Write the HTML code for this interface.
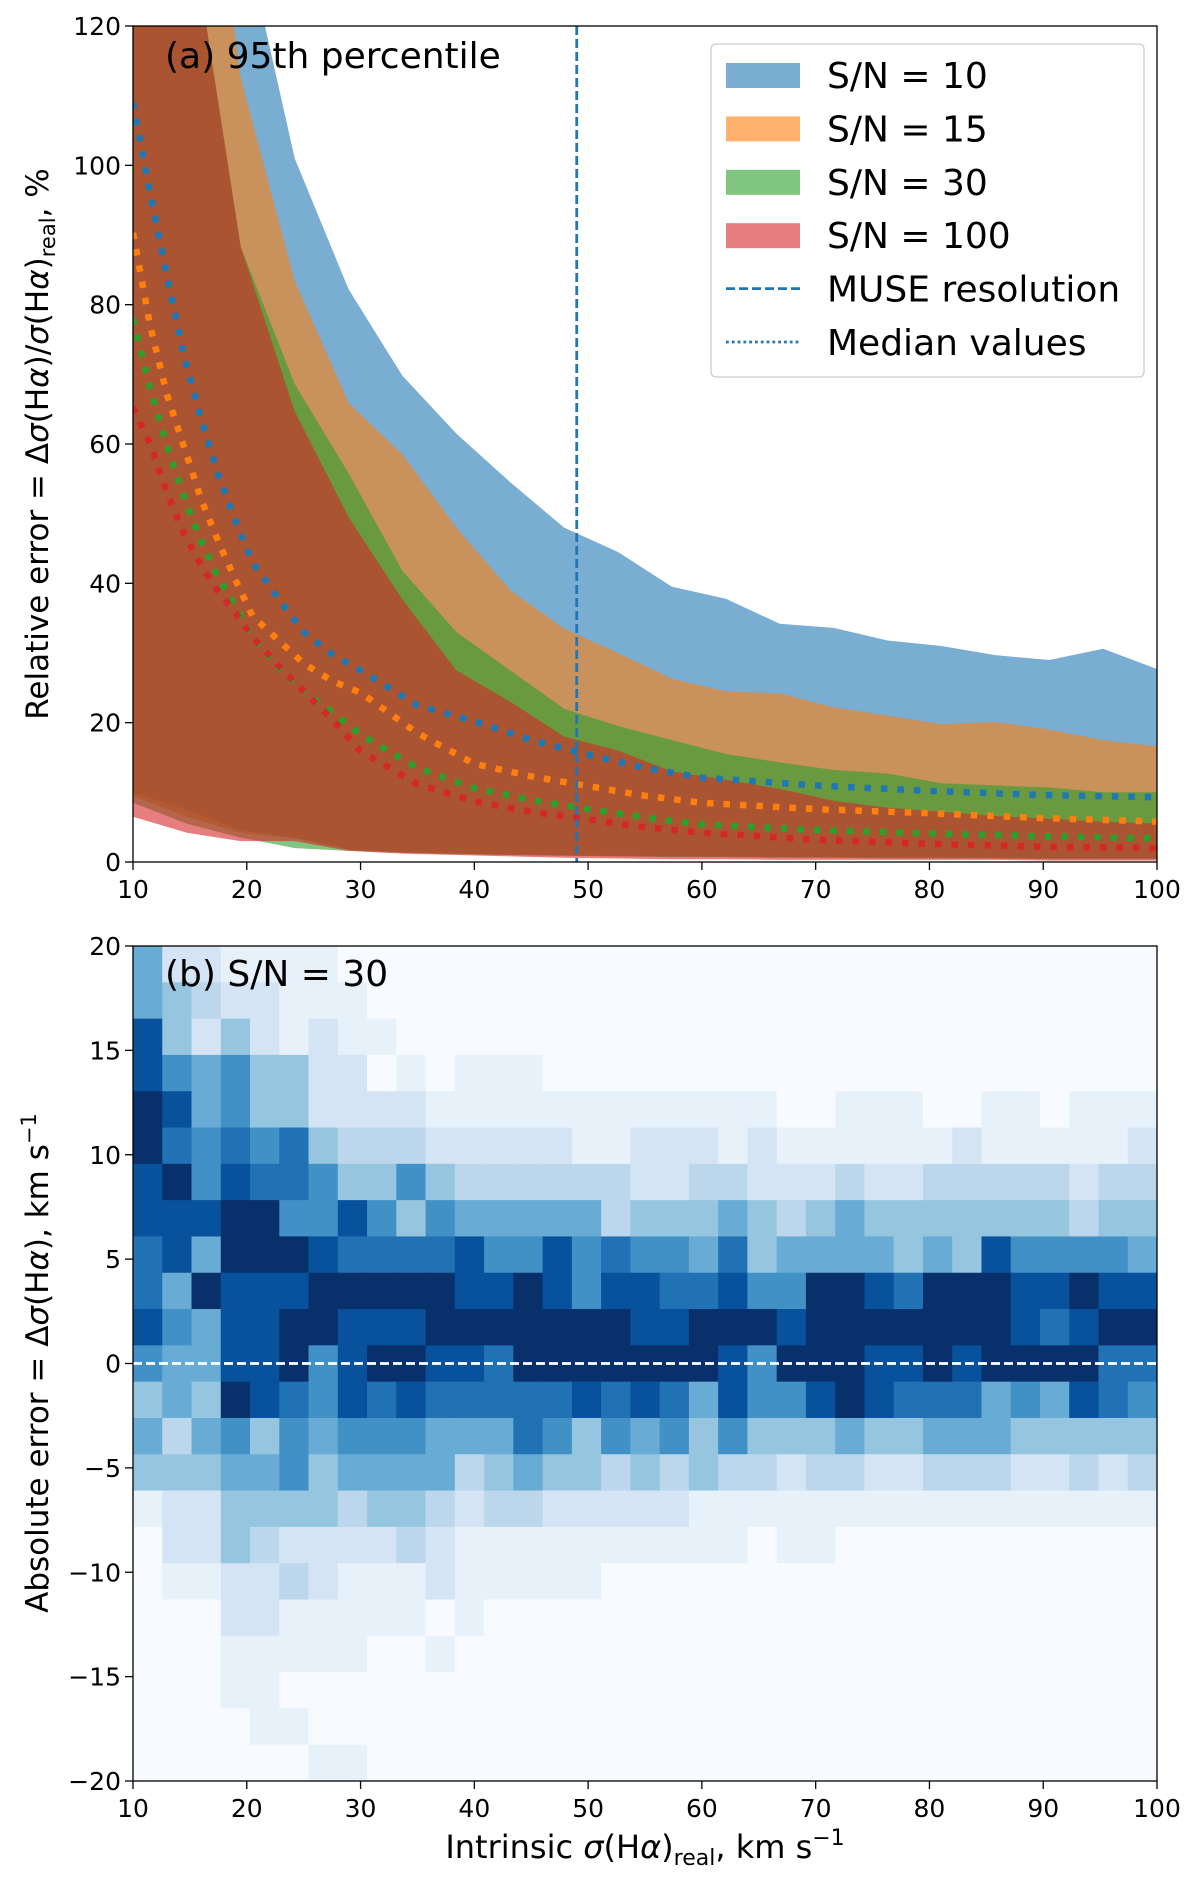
<!DOCTYPE html>
<html><head><meta charset="utf-8"><style>
html,body{margin:0;padding:0;background:#fff}
svg{display:block;font-family:"DejaVu Sans","Liberation Sans",sans-serif}
</style></head><body>
<svg id="fig" width="1200" height="1886" viewBox="0 0 1200 1886" xmlns="http://www.w3.org/2000/svg">
<defs>
<clipPath id="clipA"><rect x="133" y="26" width="1024" height="836"/></clipPath>
</defs>
<g id="panelA"></g>
<g id="panelB"></g>
</svg>
<script>
// ---------- Panel (a) data ----------
const bandX = [10,14.74,19.47,24.21,28.95,33.68,38.42,43.16,47.89,52.63,57.37,62.1,66.84,71.58,76.32,81.05,85.79,90.53,95.26,100];
const blueHi = [300,200,135.5,101,82.2,69.8,61.5,54.5,48,44.5,39.5,37.8,34.2,33.6,31.8,31.0,29.7,29.0,30.6,27.7];
const blueLo = [10,7.5,4.5,3.5,1.8,1.4,1.2,1.1,1.0,0.9,0.8,0.8,0.7,0.7,0.6,0.6,0.6,0.5,0.5,0.5];
const orangeHi = [250,170,112.6,83.4,65.9,58.5,48,39,33.5,30,26.3,24.5,24.2,22.2,21,19.8,20.1,19,17.5,16.6];
const orangeLo = [9.5,6.5,4.2,3.4,1.8,1.4,1.2,1.0,0.9,0.8,0.8,0.7,0.7,0.6,0.6,0.6,0.5,0.5,0.5,0.5];
const greenHi = [220,138,88.3,68.6,55.8,41.8,33,27.5,22,19.5,17.5,15.5,14.3,13.2,12.7,11.3,11,10.7,10,10];
const greenLo = [8.5,5.5,3.5,2.0,1.6,1.3,1.1,1.0,0.9,0.8,0.7,0.7,0.6,0.6,0.5,0.5,0.5,0.4,0.4,0.4];
const redHi = [220,138,88.3,64.7,49.5,37.7,27.5,23,18,16,13,11.8,10.5,8.8,7.8,7.2,6.6,6.2,5.8,5.5];
const redLo = [6.5,4.2,3.0,3.0,1.6,1.2,1.0,0.8,0.6,0.5,0.4,0.4,0.3,0.3,0.3,0.3,0.3,0.2,0.2,0.2];
const medX = [10,11.5,13,14.5,16,17.5,19,20.5,23,25,27.5,30,35,40,45,50,55,60,70,80,90,100];
const medBlue = [109,96,84,72.5,63.5,55.5,49,43,37.3,33,29.8,27.5,22.5,20.2,17.5,15.4,13.5,12.1,11.0,10.2,9.6,9.3];
const medOrange = [90.3,77,67,59.5,52,46,40.5,35.3,31.5,28.5,26,24.3,18.5,14.1,12.3,10.9,9.5,8.5,7.6,7.0,6.3,5.8];
const medGreen = [78,68,59.6,52.3,46,40.8,36.7,32.3,27.5,24.5,21.5,18.3,13.5,10.6,8.9,7.6,6.4,5.4,4.6,4.1,3.7,3.4];
const medRed = [65.3,60,53,47,42.5,38.8,35.8,32.3,27.8,24.5,20.5,15.9,11.2,8.7,7.2,6.1,5.0,4.2,3.2,2.6,2.2,2.0];
const museRes = 49;
const xTicks = [10,20,30,40,50,60,70,80,90,100];
const yTicksA = [0,20,40,60,80,100,120];
const legendLabels = ["S/N = 10","S/N = 15","S/N = 30","S/N = 100","MUSE resolution","Median values"];
// ---------- Panel (b) data ----------
const heatRows = [
"52211110000000000000000000000000000",
"54322111000000000000000000000000000",
"84242121100000000000000000000000000",
"86564422010111000000000000000000000",
"98564422221111111111110011100110111",
"97676743332222211222121111112111112",
"89687764464333333223322232233333233",
"88899668646555553444543454444444344",
"78599987777866867665745555454866665",
"75988899999889868877866998799988988",
"86588998889999999889998999999987899",
"65588968998879999999869998898999977",
"45498768787777787875866898777565876",
"53564656665557646564644454455544444",
"44455645555345443434332332233322323",
"12244443443233222221111111111111111",
"02243222232111111111101100000000000",
"01122321112111110000000000000000000",
"00022111110100000000000000000000000",
"00011111001000000000000000000000000",
"00011000000000000000000000000000000",
"00001100000000000000000000000000000",
"00000011000000000000000000000000000"];
const yTicksB = [-20,-15,-10,-5,0,5,10,15,20];

const NS = "http://www.w3.org/2000/svg";
function mk(tag, attrs, parent){const e=document.createElementNS(NS,tag);for(const k in attrs)e.setAttribute(k,attrs[k]);parent.appendChild(e);return e;}
const L=133,R=1157;
const xs = v => L + (v-10)/90*(R-L);
const yA = v => 862 - v/120*(862-26);
const yB = v => 1781 - (v+20)/40*(1781-946);
const pA=document.getElementById('panelA'), pB=document.getElementById('panelB');

const clipG = mk('g',{'clip-path':'url(#clipA)'},pA);
const bands=[[blueHi,blueLo,'#1f77b4','band-sn10'],[orangeHi,orangeLo,'#ff7f0e','band-sn15'],[greenHi,greenLo,'#2ca02c','band-sn30'],[redHi,redLo,'#d62728','band-sn100']];
bands.forEach(b=>{
  let d='M'+bandX.map((x,i)=>xs(x).toFixed(1)+','+yA(b[0][i]).toFixed(1)).join('L');
  for(let i=bandX.length-1;i>=0;i--) d+='L'+xs(bandX[i]).toFixed(1)+','+yA(b[1][i]).toFixed(1);
  const p=mk('path',{d:d+'Z',fill:b[2],'fill-opacity':0.6},clipG);
  
  
});
const meds=[[medBlue,'#1f77b4','median-sn10'],[medOrange,'#ff7f0e','median-sn15'],[medGreen,'#2ca02c','median-sn30'],[medRed,'#d62728','median-sn100']];
meds.forEach(m=>{
  const pts=medX.map((x,i)=>xs(x).toFixed(1)+','+yA(m[0][i]).toFixed(1)).join(' ');
  const p=mk('polyline',{points:pts,fill:'none',stroke:m[1],'stroke-width':6.5,'stroke-dasharray':'6.5 10'},clipG);
  
  
});
const mv=mk('line',{x1:xs(museRes),x2:xs(museRes),y1:26,y2:862,stroke:'#1f77b4','stroke-width':2.8,'stroke-dasharray':'9 4'},pA);


mk('rect',{x:L,y:26,width:R-L,height:836,fill:'none',stroke:'#000','stroke-width':1.3},pA);

function axes(parent, yFun, yTicks, top, bottom, tickNameA){
  xTicks.forEach(v=>{
    mk('line',{x1:xs(v),x2:xs(v),y1:bottom,y2:bottom+8,stroke:'#000','stroke-width':1.3},parent);
    const t=mk('text',{x:xs(v),y:bottom+36,'font-size':25,'text-anchor':'middle'},parent);
    t.textContent=v;
    
    
  });
  yTicks.forEach(v=>{
    mk('line',{x1:L-8,x2:L,y1:yFun(v),y2:yFun(v),stroke:'#000','stroke-width':1.3},parent);
    const t=mk('text',{x:L-12,y:yFun(v)+9,'font-size':25,'text-anchor':'end'},parent);
    t.textContent=v<0?'\u2212'+(-v):v;
    
    
  });
}
axes(pA,yA,yTicksA,26,862,'y-tick-label');

const ta=mk('text',{x:165,y:68,'font-size':36},pA); ta.textContent='(a) 95th percentile';



const yl=mk('text',{transform:'translate(48,444) rotate(-90)','font-size':31,'text-anchor':'middle'},pA);
yl.innerHTML='Relative error = Δ<tspan font-style="italic">σ</tspan>(H<tspan font-style="italic">α</tspan>)/<tspan font-style="italic">σ</tspan>(H<tspan font-style="italic">α</tspan>)<tspan font-size="21" dy="7">real</tspan><tspan dy="-7">, %</tspan>';



const lg=mk('g',{},pA);


mk('rect',{x:711,y:44,width:433,height:333,rx:5,fill:'#fff','fill-opacity':0.85,stroke:'#ccc','stroke-width':1.3},lg);
const legCols=['#1f77b4','#ff7f0e','#2ca02c','#d62728'];
legendLabels.forEach((lab,i)=>{
  const cy=75+i*53.4;
  if(i<4){ mk('rect',{x:726,y:cy-12,width:74,height:25,fill:legCols[i],'fill-opacity':0.6},lg); }
  else if(i===4){ mk('line',{x1:726,x2:800,y1:cy,y2:cy,stroke:'#1f77b4','stroke-width':2.8,'stroke-dasharray':'9 4'},lg); }
  else { mk('line',{x1:726,x2:800,y1:cy,y2:cy,stroke:'#1f77b4','stroke-width':2.8,'stroke-dasharray':'2.8 3'},lg); }
  const t=mk('text',{x:827,y:cy+13,'font-size':36},lg); t.textContent=lab;
  
  
});

const stops=[[247,251,255],[222,235,247],[198,219,239],[158,202,225],[107,174,214],[66,146,198],[33,113,181],[8,81,156],[8,48,107]];
function blues(t){t=Math.max(0,Math.min(1,t));const s=t*8,i=Math.min(7,Math.floor(s)),f=s-i;const a=stops[i],b=stops[i+1];return 'rgb('+a.map((c,k)=>Math.round(c+(b[k]-c)*f)).join(',')+')';}
const nCols=35,nRows=heatRows.length;
const colW=90/nCols,rowH=40/nRows;
heatRows.forEach((row,r)=>{
  for(let c=0;c<nCols;c++){
    const v=Math.pow(+(row[c]||0)/9,1.15);
    const x0=10+c*colW, top=20-r*rowH;
    const rc=mk('rect',{x:xs(x0).toFixed(2),y:yB(top).toFixed(2),width:(xs(x0+colW)-xs(x0)+0.4).toFixed(2),height:(yB(top-rowH)-yB(top)+0.4).toFixed(2),fill:blues(v)},pB);
    
    
  }
});
const zl=mk('line',{x1:L,x2:R,y1:yB(0),y2:yB(0),stroke:'#fff','stroke-width':2.8,'stroke-dasharray':'9 4'},pB);


mk('rect',{x:L,y:946,width:R-L,height:835,fill:'none',stroke:'#000','stroke-width':1.3},pB);
axes(pB,yB,yTicksB,946,1781,'y-tick-label');
const tb=mk('text',{x:165,y:986,'font-size':36},pB); tb.textContent='(b) S/N = 30';


const yl2=mk('text',{transform:'translate(48,1363) rotate(-90)','font-size':31,'text-anchor':'middle'},pB);
yl2.innerHTML='Absolute error = Δ<tspan font-style="italic">σ</tspan>(H<tspan font-style="italic">α</tspan>), km s<tspan font-size="21" dy="-12">−1</tspan>';


const xl=mk('text',{x:645,y:1858,'font-size':32,'text-anchor':'middle'},pB);
xl.innerHTML='Intrinsic <tspan font-style="italic">σ</tspan>(H<tspan font-style="italic">α</tspan>)<tspan font-size="22" dy="7">real</tspan><tspan dy="-7">, km s</tspan><tspan font-size="22" dy="-13">−1</tspan>';


</script>
</body></html>
